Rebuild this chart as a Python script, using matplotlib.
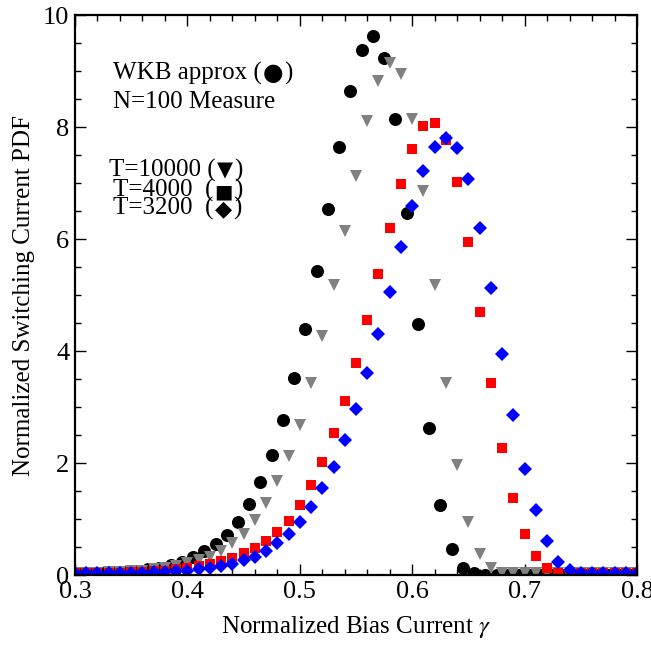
import matplotlib
matplotlib.use('Agg')
import matplotlib.pyplot as plt
from matplotlib.ticker import MultipleLocator
import numpy as np

# WKB approximation (black circles), gamma grid offset by half a step
wkb_x = [0.305 + 0.01 * k for k in range(50)]
wkb_y = [0.03, 0.035, 0.04, 0.05, 0.06, 0.08, 0.10, 0.13, 0.18, 0.24,
         0.32, 0.43, 0.55, 0.71, 0.94, 1.26, 1.655, 2.15, 2.77, 3.52,
         4.40, 5.43, 6.53, 7.65, 8.65, 9.38, 9.63, 9.24, 8.14, 6.47,
         4.48, 2.63, 1.25, 0.46, 0.12, 0.03, 0.005, 0.0, 0.0, 0.0,
         0.0, 0.0, 0.0, 0.0, 0.0, 0.0, 0.0, 0.0, 0.0, 0.0]

# N=100 measure, gamma = 0.30 ... 0.80
gam = [0.30 + 0.01 * k for k in range(51)]
t10000 = [0.03, 0.03, 0.04, 0.05, 0.06, 0.07, 0.08, 0.10, 0.13, 0.16,
          0.21, 0.26, 0.33, 0.43, 0.57, 0.74, 0.98, 1.29, 1.67, 2.125,
          2.68, 3.42, 4.26, 5.17, 6.15, 7.13, 8.11, 8.83, 9.14, 8.94,
          8.15, 6.86, 5.17, 3.43, 1.96, 0.95, 0.37, 0.13, 0.04, 0.03,
          0.03, 0.03, 0.03, 0.03, 0.03, 0.03, 0.03, 0.03, 0.03, 0.03, 0.03]
t4000 = [0.03, 0.03, 0.03, 0.04, 0.04, 0.05, 0.06, 0.07, 0.08, 0.10,
         0.13, 0.16, 0.20, 0.25, 0.31, 0.39, 0.48, 0.60, 0.76, 0.97,
         1.25, 1.60, 2.02, 2.53, 3.11, 3.79, 4.55, 5.375, 6.20, 6.99,
         7.61, 8.02, 8.08, 7.76, 7.02, 5.95, 4.70, 3.42, 2.27, 1.38,
         0.74, 0.345, 0.12, 0.04, 0.03, 0.03, 0.03, 0.03, 0.03, 0.03, 0.03]
t3200 = [0.03, 0.03, 0.03, 0.03, 0.03, 0.04, 0.04, 0.05, 0.06, 0.07,
         0.08, 0.10, 0.12, 0.16, 0.20, 0.26, 0.33, 0.43, 0.57, 0.74,
         0.95, 1.22, 1.55, 1.93, 2.41, 2.96, 3.60, 4.30, 5.06, 5.85,
         6.59, 7.21, 7.65, 7.80, 7.62, 7.07, 6.20, 5.12, 3.95, 2.86,
         1.89, 1.16, 0.60, 0.24, 0.09, 0.03, 0.03, 0.03, 0.03, 0.03, 0.03]

serif = ['Liberation Serif', 'DejaVu Sans']
plt.rcParams['font.family'] = serif
plt.rcParams['mathtext.fontset'] = 'stix'

fig = plt.figure(figsize=(6.51, 6.49), dpi=100)
ax = fig.add_axes([75 / 651, 74 / 649, 562 / 651, 560 / 649])

ax.plot(wkb_x, wkb_y, 'o', color='black', ms=9.4, mew=0)
ax.plot(gam, t10000, 'v', color='#808080', ms=8.2, mew=0)
ax.plot(gam, t4000, 's', color='#ff0000', ms=7.8, mew=0)
ax.plot(gam, t3200, 'D', color='#0000ff', ms=7.3, mew=0)

ax.set_xlim(0.3, 0.8)
ax.set_ylim(0, 10)
ax.xaxis.set_major_locator(MultipleLocator(0.1))
ax.xaxis.set_minor_locator(MultipleLocator(0.02))
ax.yaxis.set_major_locator(MultipleLocator(2))
ax.yaxis.set_minor_locator(MultipleLocator(0.5))
ax.tick_params(which='both', direction='in', top=True, right=True,
               labelsize=19, pad=4, width=1.0)
ax.tick_params(which='major', length=8)
ax.tick_params(which='minor', length=4)
for s in ax.spines.values():
    s.set_linewidth(1.6)

ax.set_xlabel(r'Normalized Bias Current $\gamma$', fontsize=18, labelpad=8)
ax.set_ylabel('Normalized Switching Current PDF', fontsize=18, labelpad=6)

fs = 18
renderer = fig.canvas.get_renderer()


# 文字 + 符号 + 右括号，符号单独设置字号
def note(x, y, before, sym=None, sym_size=fs):
    t = ax.text(x, y, before, transform=ax.transAxes, fontsize=fs, va='baseline')
    if sym is None:
        return
    base_y = ax.transAxes.transform((x, y))[1]
    x1 = t.get_window_extent(renderer).x1
    s = ax.annotate(sym, xy=(x1 + 1, base_y), xycoords='figure pixels',
                    fontsize=sym_size, family='DejaVu Sans', va='baseline')
    x2 = s.get_window_extent(renderer).x1
    ax.annotate(')', xy=(x2 + 1, base_y), xycoords='figure pixels',
                fontsize=fs, va='baseline')


note(0.068, 0.884, 'WKB approx (', '●', 17)
note(0.068, 0.834, 'N=100 Measure')
note(0.061, 0.711, 'T=10000 (', '▼', 15)
note(0.068, 0.675, 'T=4000  (', '■', 14)
note(0.068, 0.643, 'T=3200  (', '◆', 16)

fig.savefig('out.png', dpi=100)
